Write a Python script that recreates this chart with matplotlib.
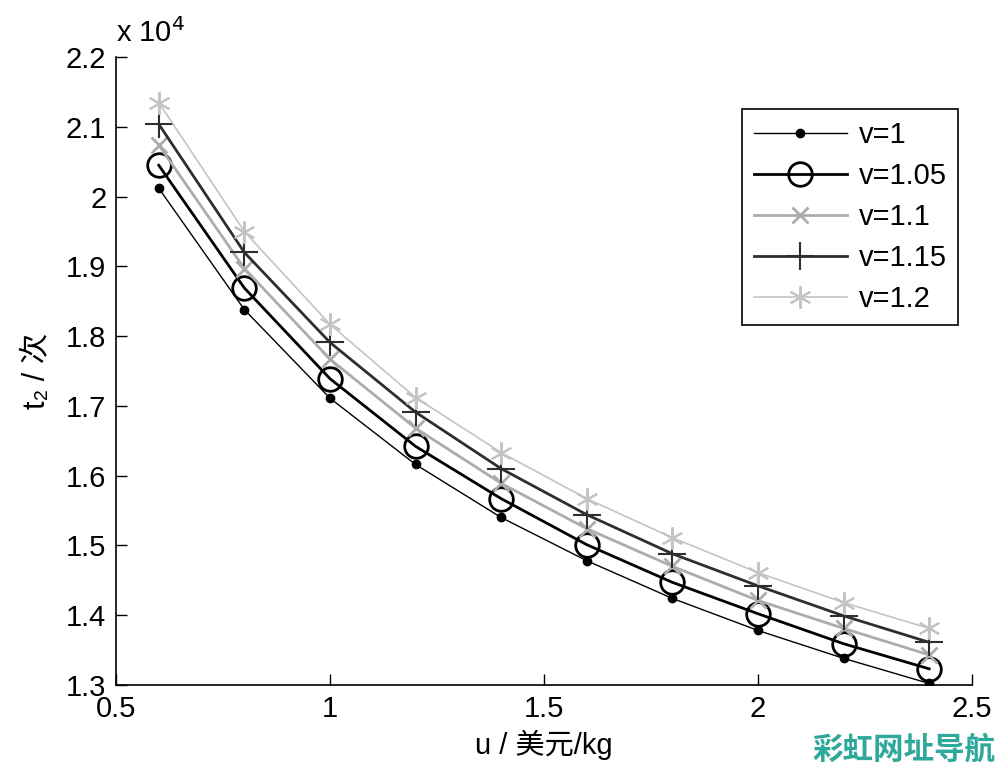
import numpy as np
import matplotlib.pyplot as plt

plt.rcParams['font.family'] = ['Liberation Sans', 'Noto Sans CJK SC', 'DejaVu Sans']

# donnees
u = [0.6, 0.8, 1.0, 1.2, 1.4, 1.6, 1.8, 2.0, 2.2, 2.4]   # 美元/kg
t2_v100 = [20120, 18380, 17110, 16160, 15400, 14780, 14240, 13780, 13380, 13020]
t2_v105 = [20450, 18690, 17390, 16420, 15670, 15010, 14470, 14020, 13590, 13230]
t2_v110 = [20740, 18970, 17670, 16680, 15890, 15240, 14700, 14210, 13810, 13430]
t2_v115 = [21040, 19200, 17910, 16910, 16100, 15440, 14880, 14420, 13990, 13610]
t2_v120 = [21350, 19500, 18170, 17120, 16330, 15670, 15110, 14610, 14180, 13810]
labels = ['v=1', 'v=1.05', 'v=1.1', 'v=1.15', 'v=1.2']

fig = plt.figure(figsize=(10, 7.73), dpi=100)
ax = fig.add_axes([0.116, 0.114, 0.856, 0.812])

s = 1e4
ax.plot(u, np.array(t2_v100)/s, '-', color='black', lw=1.0, marker='o', ms=6,
        mfc='black', mec='black', label=labels[0])
ax.plot(u, np.array(t2_v105)/s, '-', color='black', lw=2.0, marker='o', ms=17,
        mfc='none', mec='black', mew=2.0, label=labels[1])
ax.plot(u, np.array(t2_v110)/s, '-', color='#acacac', lw=2.0, marker='x', ms=11,
        mew=2.0, label=labels[2])
ax.plot(u, np.array(t2_v115)/s, '-', color='#2e2e2e', lw=2.0, marker='+', ms=20,
        mew=1.5, label=labels[3])
ax.plot(u, np.array(t2_v120)/s, '-', color='#c4c4c4', lw=1.2, marker=(6, 2, 0),
        ms=16, mew=1.5, label=labels[4])

ax.set_xlim(0.5, 2.5)
ax.set_ylim(1.3, 2.2)
ax.set_xticks([0.5, 1, 1.5, 2, 2.5])
ax.set_xticklabels(['0.5', '1', '1.5', '2', '2.5'])
ax.set_yticks(np.arange(1.3, 2.21, 0.1))
ax.set_yticklabels(['1.3', '1.4', '1.5', '1.6', '1.7', '1.8', '1.9', '2', '2.1', '2.2'])
ax.tick_params(direction='in', length=8, width=1, labelsize=21, pad=7)
ax.spines['top'].set_visible(False)
ax.spines['right'].set_visible(False)
ax.spines['left'].set_linewidth(1.2)
ax.spines['bottom'].set_linewidth(1.2)

ax.set_xlabel('u / 美元/kg', fontsize=21, labelpad=5)
ax.set_ylabel('t\u2082 / 次', fontsize=22, labelpad=10,
              family=['Liberation Sans', 'DejaVu Sans', 'Noto Sans CJK SC'])
ax.text(0.0, 1.015, 'x 10$^4$', transform=ax.transAxes, fontsize=21,
        ha='left', va='bottom')

leg = ax.legend(loc='upper right', bbox_to_anchor=(0.984, 0.917), fontsize=21,
                numpoints=1, handlelength=3.2, handletextpad=0.4,
                borderpad=0.4, labelspacing=0.45, borderaxespad=0,
                fancybox=False, edgecolor='black', framealpha=1)
leg.get_frame().set_linewidth(1.2)

fig.text(0.995, 0.03, '彩虹网址导航', color='#2fa89c', fontsize=22,
         fontweight='bold', ha='right', va='center',
         family=['Noto Sans CJK SC'])

fig.savefig('out.png', dpi=100)
